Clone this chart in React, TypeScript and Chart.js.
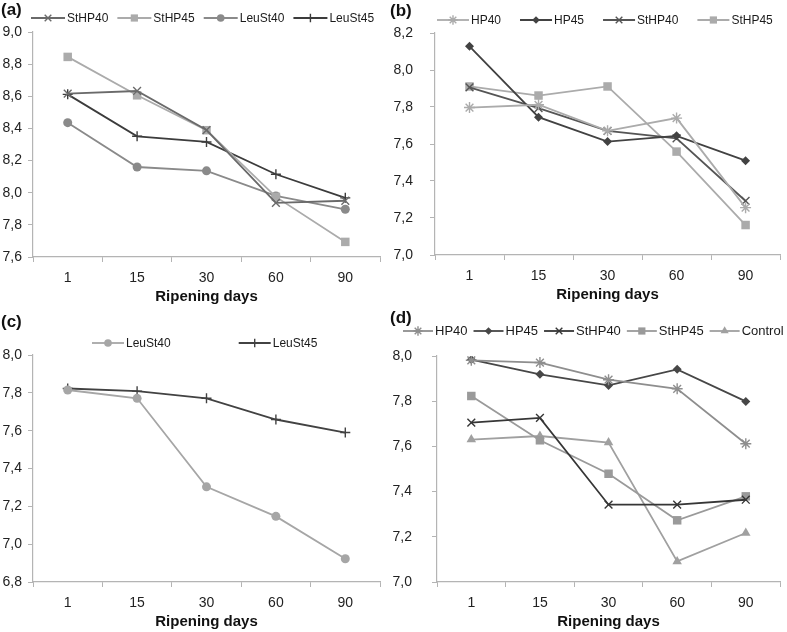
import React, { useEffect, useRef } from "react";
import { Chart, registerables } from "chart.js";

Chart.register(...registerables);

// ---------- data ----------
const days = ["1", "15", "30", "60", "90"];

// panel (a)
const aStHP40 = [8.617, 8.633, 8.39, 7.937, 7.95];
const aStHP45 = [8.845, 8.606, 8.389, 7.974, 7.694];
const aLeuSt40 = [8.436, 8.16, 8.136, 7.98, 7.897];
const aLeuSt45 = [8.612, 8.351, 8.316, 8.115, 7.968];
const aRange = [7.6, 9.0];

// panel (b)
const bHP40 = [7.797, 7.812, 7.671, 7.74, 7.256];
const bHP45 = [8.128, 7.745, 7.613, 7.644, 7.51];
const bStHP40 = [7.906, 7.794, 7.671, 7.631, 7.292];
const bStHP45 = [7.911, 7.862, 7.911, 7.559, 7.162];
const bRange = [7.0, 8.2];

// panel (c)
const cLeuSt40 = [7.815, 7.771, 7.303, 7.147, 6.923];
const cLeuSt45 = [7.823, 7.809, 7.771, 7.659, 7.59];
const cRange = [6.8, 8.0];

// panel (d)
const dHP40 = [7.981, 7.971, 7.895, 7.855, 7.612];
const dHP45 = [7.984, 7.919, 7.87, 7.941, 7.799];
const dStHP40 = [7.705, 7.726, 7.342, 7.342, 7.364];
const dStHP45 = [7.823, 7.627, 7.479, 7.273, 7.379];
const dControl = [7.63, 7.646, 7.617, 7.091, 7.217];
const dRange = [7.0, 8.0];

const xTitle = "Ripening days";
const FONT = '"Liberation Sans", Arial, sans-serif';

// ---------- styles ----------
const markerSize: Record<string, number> = {
  rect: 6,
  circle: 4.5,
  rectRot: 4.5,
  crossRot: 5.5,
  cross: 5,
  star: 5.5,
  triangle: 5.5,
};

function ds(label: string, data: number[], color: string, style: string) {
  const stroked = style === "cross" || style === "crossRot" || style === "star";
  return {
    label,
    data,
    borderColor: color,
    backgroundColor: color,
    borderWidth: 1.8,
    tension: 0,
    pointStyle: style,
    pointRadius: markerSize[style],
    pointHoverRadius: markerSize[style],
    pointBackgroundColor: color,
    pointBorderColor: color,
    pointBorderWidth: stroked ? 1.4 : 0,
    fill: false,
  };
}

function drawMarker(ctx: CanvasRenderingContext2D, style: string, r: number, x: number, y: number, color: string) {
  ctx.save();
  ctx.fillStyle = color;
  ctx.strokeStyle = color;
  ctx.lineWidth = 1.4;
  ctx.beginPath();
  const s = r * Math.SQRT1_2;
  switch (style) {
    case "circle":
      ctx.arc(x, y, r, 0, Math.PI * 2);
      ctx.fill();
      break;
    case "rect":
      ctx.rect(x - s, y - s, 2 * s, 2 * s);
      ctx.fill();
      break;
    case "rectRot":
      ctx.moveTo(x, y - r);
      ctx.lineTo(x + r, y);
      ctx.lineTo(x, y + r);
      ctx.lineTo(x - r, y);
      ctx.closePath();
      ctx.fill();
      break;
    case "triangle": {
      let a = 0;
      ctx.moveTo(x + Math.sin(a) * r, y - Math.cos(a) * r);
      a += (2 * Math.PI) / 3;
      ctx.lineTo(x + Math.sin(a) * r, y - Math.cos(a) * r);
      a += (2 * Math.PI) / 3;
      ctx.lineTo(x + Math.sin(a) * r, y - Math.cos(a) * r);
      ctx.closePath();
      ctx.fill();
      break;
    }
    case "cross":
      ctx.moveTo(x - r, y);
      ctx.lineTo(x + r, y);
      ctx.moveTo(x, y - r);
      ctx.lineTo(x, y + r);
      ctx.stroke();
      break;
    case "crossRot":
      ctx.moveTo(x - s, y - s);
      ctx.lineTo(x + s, y + s);
      ctx.moveTo(x - s, y + s);
      ctx.lineTo(x + s, y - s);
      ctx.stroke();
      break;
    case "star":
      ctx.moveTo(x - r, y);
      ctx.lineTo(x + r, y);
      ctx.moveTo(x, y - r);
      ctx.lineTo(x, y + r);
      ctx.moveTo(x - s, y - s);
      ctx.lineTo(x + s, y + s);
      ctx.moveTo(x - s, y + s);
      ctx.lineTo(x + s, y - s);
      ctx.stroke();
      break;
  }
  ctx.restore();
}

type Panel = {
  key: string;
  label: string;
  left: number;
  top: number;
  w: number;
  h: number;
  pad: { top: number; right: number; bottom: number; left: number };
  yW: number;
  yPad: number;
  range: number[];
  labelX: number;
  labelY: number;
  legX: number;
  legY: number;
  legFont: number;
  legLine: number;
  legGap: number;
  datasets: any[];
};

const panels: Panel[] = [
  {
    key: "a", label: "(a)", left: 0, top: 0, w: 388, h: 310,
    pad: { top: 32, right: 8, bottom: 4, left: 0 }, yW: 33, yPad: 6, range: aRange,
    labelX: 1, labelY: 10, legX: 31, legY: 18, legFont: 12, legLine: 34, legGap: 9,
    datasets: [
      ds("StHP40", aStHP40, "#6a6a6a", "crossRot"),
      ds("StHP45", aStHP45, "#ababab", "rect"),
      ds("LeuSt40", aLeuSt40, "#8a8a8a", "circle"),
      ds("LeuSt45", aLeuSt45, "#3c3c3c", "cross"),
    ],
  },
  {
    key: "b", label: "(b)", left: 388, top: 0, w: 399, h: 310,
    pad: { top: 33, right: 5, bottom: 6, left: 0 }, yW: 47, yPad: 17, range: bRange,
    labelX: 2, labelY: 11, legX: 49, legY: 20, legFont: 12, legLine: 32, legGap: 19,
    datasets: [
      ds("HP40", bHP40, "#ababab", "star"),
      ds("HP45", bHP45, "#424242", "rectRot"),
      ds("StHP40", bStHP40, "#555555", "crossRot"),
      ds("StHP45", bStHP45, "#ababab", "rect"),
    ],
  },
  {
    key: "c", label: "(c)", left: 0, top: 310, w: 388, h: 322,
    pad: { top: 45, right: 8, bottom: 1, left: 0 }, yW: 33, yPad: 6, range: cRange,
    labelX: 1, labelY: 12, legX: 92, legY: 33, legFont: 12, legLine: 32, legGap: 68,
    datasets: [
      ds("LeuSt40", cLeuSt40, "#a6a6a6", "circle"),
      ds("LeuSt45", cLeuSt45, "#424242", "cross"),
    ],
  },
  {
    key: "d", label: "(d)", left: 388, top: 310, w: 399, h: 322,
    pad: { top: 46, right: 5, bottom: 1, left: 0 }, yW: 49, yPad: 20, range: dRange,
    labelX: 2, labelY: 8, legX: 15, legY: 21, legFont: 13, legLine: 30, legGap: 6,
    datasets: [
      ds("HP40", dHP40, "#8e8e8e", "star"),
      ds("HP45", dHP45, "#474747", "rectRot"),
      ds("StHP40", dStHP40, "#363636", "crossRot"),
      ds("StHP45", dStHP45, "#9a9a9a", "rect"),
      ds("Control", dControl, "#a0a0a0", "triangle"),
    ],
  },
];

function legendPlugin(p: Panel) {
  return {
    id: "panelLegend_" + p.key,
    afterDraw(chart: any) {
      const ctx: CanvasRenderingContext2D = chart.ctx;
      ctx.save();
      ctx.textBaseline = "middle";
      ctx.textAlign = "left";
      ctx.fillStyle = "#111";
      ctx.font = `bold 17px ${FONT}`;
      ctx.fillText(p.label, p.labelX, p.labelY);
      ctx.font = `${p.legFont}px ${FONT}`;
      let x = p.legX;
      const y = p.legY;
      chart.data.datasets.forEach((d: any) => {
        ctx.strokeStyle = d.borderColor;
        ctx.lineWidth = d.borderWidth;
        ctx.beginPath();
        ctx.moveTo(x, y);
        ctx.lineTo(x + p.legLine, y);
        ctx.stroke();
        drawMarker(ctx, d.pointStyle, d.pointRadius * 0.85, x + p.legLine / 2, y, d.borderColor);
        x += p.legLine + 2;
        ctx.fillStyle = "#1a1a1a";
        ctx.fillText(d.label, x, y + 0.5);
        x += ctx.measureText(d.label).width + p.legGap;
      });
      ctx.restore();
    },
  };
}

function PanelChart({ p }: { p: Panel }) {
  const ref = useRef<HTMLCanvasElement>(null);
  useEffect(() => {
    if (!ref.current) return;
    const axisColor = "#b4b4b4";
    const chart = new Chart(ref.current, {
      type: "line",
      data: { labels: days, datasets: p.datasets },
      options: {
        animation: false,
        responsive: false,
        devicePixelRatio: 1,
        layout: { padding: p.pad },
        plugins: { legend: { display: false }, title: { display: false }, tooltip: { enabled: false } },
        scales: {
          x: {
            type: "category",
            offset: true,
            grid: { offset: true, drawOnChartArea: false, drawTicks: true, tickLength: 5, color: axisColor, lineWidth: 1 },
            border: { display: true, color: axisColor, width: 1.2 },
            ticks: { font: { family: FONT, size: 14 }, color: "#222", padding: 8, maxRotation: 0, autoSkip: false },
            title: {
              display: true,
              text: xTitle,
              font: { family: FONT, size: 15, weight: "bold" },
              color: "#111",
              padding: { top: 0, bottom: 0 },
            },
            afterFit: (s: any) => {
              s.height = 49;
            },
          },
          y: {
            min: p.range[0],
            max: p.range[1],
            grid: { drawOnChartArea: false, drawTicks: true, tickLength: 5, color: axisColor, lineWidth: 1 },
            border: { display: true, color: axisColor, width: 1.2 },
            ticks: {
              stepSize: 0.2,
              font: { family: FONT, size: 14 },
              color: "#222",
              padding: p.yPad,
              callback: (v: any) => Number(v).toFixed(1).replace(".", ","),
            },
            afterFit: (s: any) => {
              s.width = p.yW;
            },
          },
        },
      } as any,
      plugins: [legendPlugin(p)],
    });
    return () => chart.destroy();
  }, [p]);
  return (
    <canvas
      ref={ref}
      width={p.w}
      height={p.h}
      style={{ position: "absolute", left: p.left, top: p.top, width: p.w, height: p.h }}
    />
  );
}

export default function App() {
  return (
    <div style={{ position: "absolute", left: 0, top: 0, width: 787, height: 632, background: "#fff" }}>
      {panels.map((p) => (
        <PanelChart key={p.key} p={p} />
      ))}
    </div>
  );
}
